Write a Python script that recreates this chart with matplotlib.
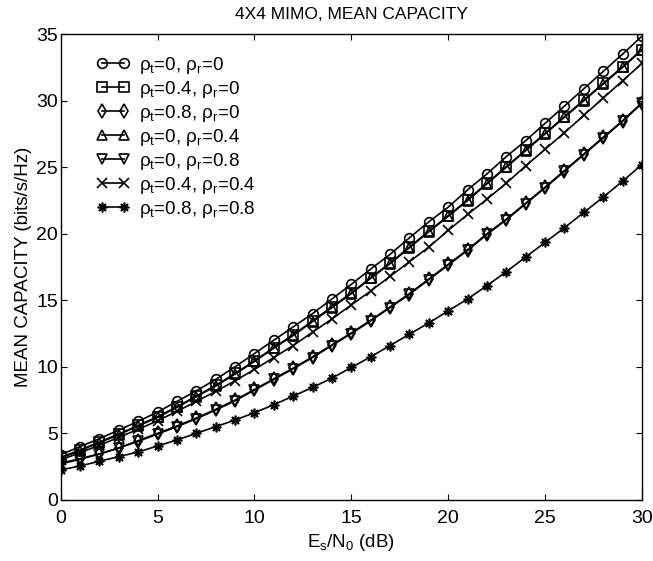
import numpy as np
import matplotlib
matplotlib.use("Agg")
import matplotlib.pyplot as plt

plt.rcParams['font.family'] = ['Liberation Sans', 'DejaVu Sans']
plt.rcParams['mathtext.default'] = 'regular'

# SNR axis, 0..30 dB in 1 dB steps
snr_db = list(range(0, 31))

# mean capacity (bits/s/Hz) for each correlation case
cap_t0_r0 = [3.4, 4.0, 4.6, 5.25, 5.9, 6.6, 7.4, 8.2, 9.05, 10.0, 11.0, 12.0, 13.0, 14.0, 15.1,
             16.2, 17.35, 18.45, 19.7, 20.9, 22.0, 23.3, 24.5, 25.8, 27.0, 28.3, 29.6, 30.9,
             32.2, 33.5, 34.85]
cap_t04_r0 = [3.2, 3.75, 4.35, 4.95, 5.6, 6.25, 7.0, 7.8, 8.6, 9.5, 10.45, 11.45, 12.4, 13.45,
              14.5, 15.55, 16.7, 17.8, 19.0, 20.2, 21.35, 22.55, 23.8, 25.05, 26.3, 27.55, 28.8,
              30.05, 31.3, 32.55, 33.85]
cap_t08_r0 = [2.75, 3.1, 3.45, 3.9, 4.45, 5.0, 5.55, 6.15, 6.8, 7.5, 8.3, 9.1, 9.9, 10.75, 11.65,
              12.55, 13.5, 14.5, 15.5, 16.6, 17.7, 18.8, 20.0, 21.1, 22.3, 23.5, 24.75, 26.0,
              27.25, 28.5, 29.85]
cap_t0_r04 = [3.15, 3.7, 4.3, 4.9, 5.55, 6.2, 6.95, 7.75, 8.55, 9.45, 10.4, 11.4, 12.35, 13.4,
              14.45, 15.5, 16.65, 17.75, 18.95, 20.15, 21.3, 22.5, 23.75, 25.0, 26.25, 27.5,
              28.75, 30.0, 31.25, 32.5, 33.8]
cap_t0_r08 = [2.7, 3.05, 3.45, 3.9, 4.4, 4.95, 5.5, 6.1, 6.75, 7.45, 8.25, 9.05, 9.85, 10.7,
              11.6, 12.5, 13.45, 14.45, 15.45, 16.55, 17.65, 18.75, 19.95, 21.05, 22.25, 23.45,
              24.7, 25.95, 27.2, 28.45, 29.8]
cap_t04_r04 = [3.0, 3.55, 4.1, 4.7, 5.3, 5.95, 6.65, 7.4, 8.15, 8.95, 9.8, 10.7, 11.6, 12.6, 13.6,
               14.65, 15.7, 16.8, 17.9, 19.0, 20.25, 21.45, 22.6, 23.8, 25.1, 26.35, 27.6, 28.9,
               30.2, 31.5, 32.8]
cap_t08_r08 = [2.25, 2.55, 2.9, 3.25, 3.6, 4.05, 4.5, 5.0, 5.5, 6.0, 6.55, 7.15, 7.8, 8.45, 9.15,
               9.95, 10.75, 11.6, 12.45, 13.3, 14.2, 15.1, 16.1, 17.15, 18.25, 19.35, 20.45, 21.6,
               22.75, 23.95, 25.2]

labels = ['ρ$_t$=0, ρ$_r$=0', 'ρ$_t$=0.4, ρ$_r$=0', 'ρ$_t$=0.8, ρ$_r$=0',
          'ρ$_t$=0, ρ$_r$=0.4', 'ρ$_t$=0, ρ$_r$=0.8', 'ρ$_t$=0.4, ρ$_r$=0.4',
          'ρ$_t$=0.8, ρ$_r$=0.8']
series = [cap_t0_r0, cap_t04_r0, cap_t08_r0, cap_t0_r04, cap_t0_r08, cap_t04_r04, cap_t08_r08]
markers = ['o', 's', 'd', '^', 'v', 'x', (8, 2, 0)]
sizes = [7, 6.5, 7.5, 7, 7, 7, 7]

fig = plt.figure(figsize=(6.53, 5.61), dpi=100)
ax = fig.add_axes([0.093, 0.109, 0.89, 0.83])

for y, m, ms, lab in zip(series, markers, sizes, labels):
    ax.plot(snr_db, y, color='black', lw=1.2, marker=m, ms=ms, mfc='none',
            mec='black', mew=1.2, label=lab)

ax.set_xlim(0, 30)
ax.set_ylim(0, 35)
ax.set_xticks(np.arange(0, 31, 5))
ax.set_yticks(np.arange(0, 36, 5))
ax.tick_params(direction='in', top=True, right=True, labelsize=14, length=4, width=0.8)
ax.tick_params(axis='x', pad=7)
ax.tick_params(axis='y', pad=2)
for s in ax.spines.values():
    s.set_linewidth(1.0)

ax.set_title('4X4 MIMO, MEAN CAPACITY', fontsize=12.5, pad=11)
ax.set_xlabel('E$_s$/N$_0$ (dB)', fontsize=13.5, labelpad=4)
ax.set_ylabel('MEAN CAPACITY (bits/s/Hz)', fontsize=13.5, labelpad=3)

ax.legend(loc='upper left', frameon=False, fontsize=13.5, numpoints=2,
          handlelength=1.8, handletextpad=0.5, labelspacing=0.16,
          borderaxespad=0.7, bbox_to_anchor=(0.025, 1.0))

fig.savefig('out.png', dpi=100)
